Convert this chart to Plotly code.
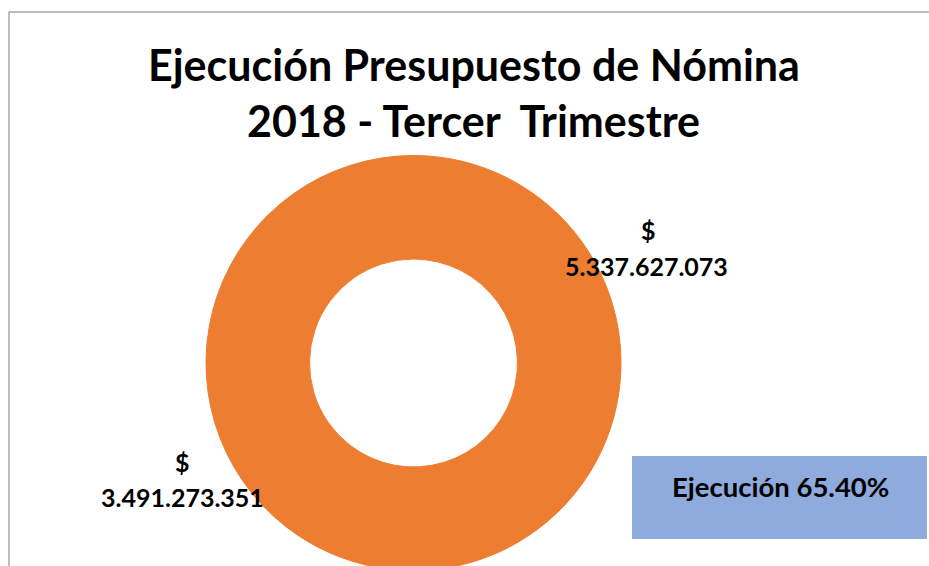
import plotly.graph_objects as go

# Data
labels = ["Presupuesto", "Ejecutado"]
values = [5337627073, 3491273351]
slice_colors = ["#ED7D31", "#ED7D31"]
title_lines = ["Ejecución Presupuesto de Nómina", "2018 - Tercer  Trimestre"]
execution_label = "Ejecución 65.40%"


def fmt(v):
    return "{:,}".format(v).replace(",", ".")


W, H = 929, 575  # drawn slightly taller than the window so the ring is cut at the bottom
FONT = "Lato, 'Open Sans', sans-serif"


def px(x):
    return x / W


def py(y):
    return 1 - y / H


fig = go.Figure()
fig.add_trace(go.Pie(
    labels=labels,
    values=values,
    hole=0.501,
    sort=False,
    marker=dict(colors=slice_colors, line=dict(color="#ED7D31", width=1)),
    textinfo="none",
    hoverinfo="label+value",
    domain=dict(x=[px(206), px(621)], y=[0, 2 * (H - 363) / H]),
    showlegend=False,
))

annotations = [
    dict(x=px(474), y=py(64), text="<b>" + title_lines[0] + "</b>", font=dict(size=43)),
    dict(x=px(474), y=py(120), text="<b>" + title_lines[1] + "</b>", font=dict(size=43)),
    dict(x=px(648), y=py(230), text="<b>$</b>", font=dict(size=25)),
    dict(x=px(646), y=py(266), text="<b>" + fmt(values[0]) + "</b>", font=dict(size=25)),
    dict(x=px(182), y=py(462), text="<b>$</b>", font=dict(size=25)),
    dict(x=px(182), y=py(497), text="<b>" + fmt(values[1]) + "</b>", font=dict(size=25)),
    dict(x=px(780), y=py(486), text="<b>" + execution_label + "</b>", font=dict(size=27.5)),
]
for a in annotations:
    a.update(xref="paper", yref="paper", showarrow=False, xanchor="center", yanchor="middle")
    a["font"].update(family=FONT, color="#000000")

shapes = [
    dict(type="rect", xref="paper", yref="paper", x0=px(632), x1=px(927), y0=py(539), y1=py(456),
         fillcolor="#8FAADC", line=dict(width=0), layer="below"),
    dict(type="line", xref="paper", yref="paper", x0=px(9), x1=px(9), y0=0, y1=py(12),
         line=dict(color="#A6A6A6", width=1.5)),
    dict(type="line", xref="paper", yref="paper", x0=px(9), x1=1, y0=py(12), y1=py(12),
         line=dict(color="#A6A6A6", width=1.5)),
]

fig.update_layout(
    width=W, height=H,
    margin=dict(l=0, r=0, t=0, b=0),
    paper_bgcolor="white",
    plot_bgcolor="white",
    annotations=annotations,
    shapes=shapes,
    font=dict(family=FONT),
)

fig.write_html(
    "out.html",
    config={"displayModeBar": False},
    post_script="document.body.style.margin='0';document.body.style.overflow='hidden';"
                "document.documentElement.style.overflow='hidden';",
)
